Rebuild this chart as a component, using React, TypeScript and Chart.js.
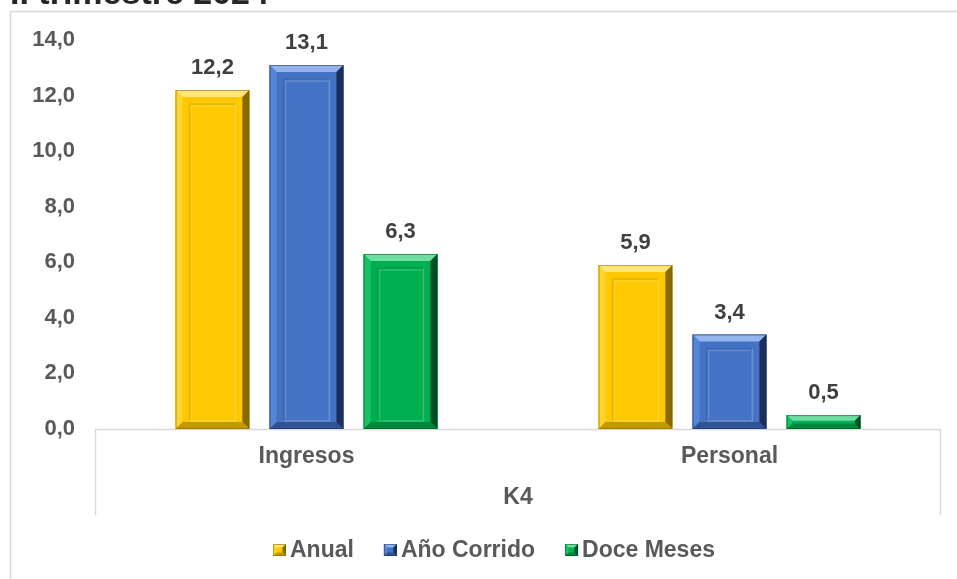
import React, { useEffect, useRef } from "react";
import { Chart, registerables } from "chart.js";

Chart.register(...registerables);

const titleText = "II trimestre 2024";
const categories = ["Ingresos", "Personal"];
const groupLabel = "K4";
const seriesNames = ["Anual", "Año Corrido", "Doce Meses"];
const anual = [12.2, 5.9];
const anoCorrido = [13.1, 3.4];
const doceMeses = [6.3, 0.5];
const yMin = 0;
const yMax = 14;
const yStep = 2;

const palettes = [
  { base: "#FFC800", light: "#FFE57A", left: "#FFD42E", dark: "#8A6A00", bottom: "#C29800", edge: "#7A5E00" },
  { base: "#4472C4", light: "#93B3EC", left: "#5785D6", dark: "#1B2F5A", bottom: "#2E5294", edge: "#1A2D55" },
  { base: "#00B050", light: "#6EDDA0", left: "#19C264", dark: "#004F26", bottom: "#00853C", edge: "#004A24" },
];

const FONT = "'Liberation Sans', Arial, sans-serif";
const fmt = (v: number) => v.toFixed(1).replace(".", ",");

function poly(ctx: CanvasRenderingContext2D, pts: number[][], color: string) {
  ctx.beginPath();
  ctx.moveTo(pts[0][0], pts[0][1]);
  for (let i = 1; i < pts.length; i++) ctx.lineTo(pts[i][0], pts[i][1]);
  ctx.closePath();
  ctx.fillStyle = color;
  ctx.fill();
}

function drawBevel(ctx: CanvasRenderingContext2D, l: number, t: number, w: number, h: number, pal: any, bev: number, frame: boolean) {
  const b = Math.max(1, Math.min(bev, h / 2.5, w / 2.5));
  const r = l + w;
  const btm = t + h;
  ctx.save();
  ctx.fillStyle = pal.base;
  ctx.fillRect(l, t, w, h);
  poly(ctx, [[l, t], [r, t], [r - b, t + b], [l + b, t + b]], pal.light);
  poly(ctx, [[l, t], [l + b, t + b], [l + b, btm - b], [l, btm]], pal.left);
  poly(ctx, [[r, t], [r, btm], [r - b, btm - b], [r - b, t + b]], pal.dark);
  poly(ctx, [[l, btm], [l + b, btm - b], [r - b, btm - b], [r, btm]], pal.bottom);
  ctx.lineWidth = 1;
  ctx.strokeStyle = pal.edge;
  ctx.globalAlpha = 0.5;
  ctx.strokeRect(l + 0.5, t + 0.5, w - 1, h - 1);
  ctx.globalAlpha = 1;
  if (frame && h > 40) {
    const ins = 14;
    const il = l + ins, it = t + ins, ir = r - ins, ib = btm - 8;
    ctx.lineWidth = 1.5;
    ctx.strokeStyle = "rgba(0,0,0,0.10)";
    ctx.beginPath();
    ctx.moveTo(il, ib);
    ctx.lineTo(il, it);
    ctx.lineTo(ir, it);
    ctx.stroke();
    ctx.strokeStyle = "rgba(255,255,255,0.22)";
    ctx.beginPath();
    ctx.moveTo(ir, it);
    ctx.lineTo(ir, ib);
    ctx.lineTo(il, ib);
    ctx.stroke();
    ctx.strokeStyle = "rgba(255,255,255,0.18)";
    ctx.beginPath();
    ctx.moveTo(il + 2, ib - 2);
    ctx.lineTo(il + 2, it + 2);
    ctx.lineTo(ir - 2, it + 2);
    ctx.stroke();
  }
  ctx.restore();
}

const decorPlugin = {
  id: "decor",
  beforeDraw(chart: any) {
    const { ctx, chartArea } = chart;
    ctx.save();
    ctx.strokeStyle = "#D9D9D9";
    ctx.lineWidth = 1.5;
    ctx.beginPath();
    ctx.moveTo(10.5, chart.height + 5);
    ctx.lineTo(10.5, 11.5);
    ctx.lineTo(chart.width + 5, 11.5);
    ctx.stroke();
    ctx.fillStyle = "#262626";
    ctx.font = `bold 34px ${FONT}`;
    ctx.textBaseline = "alphabetic";
    ctx.textAlign = "left";
    ctx.fillText(titleText, 10, 4);
    ctx.strokeStyle = "#D9D9D9";
    ctx.lineWidth = 1.5;
    ctx.beginPath();
    ctx.moveTo(chartArea.left, chartArea.bottom + 0.5);
    ctx.lineTo(chartArea.right, chartArea.bottom + 0.5);
    ctx.moveTo(chartArea.left + 0.5, chartArea.bottom);
    ctx.lineTo(chartArea.left + 0.5, chartArea.bottom + 86);
    ctx.moveTo(chartArea.right - 0.5, chartArea.bottom);
    ctx.lineTo(chartArea.right - 0.5, chartArea.bottom + 86);
    ctx.stroke();
    ctx.restore();
  },
  afterDatasetsDraw(chart: any) {
    const ctx = chart.ctx;
    ctx.save();
    chart.data.datasets.forEach((ds: any, i: number) => {
      const meta = chart.getDatasetMeta(i);
      const pal = palettes[i];
      meta.data.forEach((bar: any, j: number) => {
        const { x, y, base, width } = bar.getProps(["x", "y", "base", "width"], true);
        drawBevel(ctx, x - width / 2, y, width, base - y, pal, 7, true);
        ctx.fillStyle = "#404040";
        ctx.font = `bold 22px ${FONT}`;
        ctx.textAlign = "center";
        ctx.textBaseline = "middle";
        ctx.fillText(fmt(ds.data[j]), x, y - 22);
      });
    });
    ctx.restore();
  },
  afterDraw(chart: any) {
    const ctx = chart.ctx;
    ctx.save();
    ctx.font = `bold 23px ${FONT}`;
    const boxW = 13, boxH = 12, gap = 4, spacing = 30;
    const ds = chart.data.datasets;
    const widths = ds.map((d: any) => boxW + gap + ctx.measureText(d.label).width);
    const total = widths.reduce((a: number, b: number) => a + b, 0) + spacing * (ds.length - 1);
    let x = 494 - total / 2;
    const cy = 550;
    ds.forEach((d: any, i: number) => {
      drawBevel(ctx, x, cy - boxH / 2, boxW, boxH, palettes[i], 3.5, false);
      ctx.fillStyle = "#595959";
      ctx.textAlign = "left";
      ctx.textBaseline = "middle";
      ctx.fillText(d.label, x + boxW + gap, cy + 1);
      x += widths[i] + spacing;
    });
    ctx.restore();
  },
};

export default function App() {
  const ref = useRef<HTMLCanvasElement | null>(null);
  useEffect(() => {
    if (!ref.current) return;
    const seriesValues = [anual, anoCorrido, doceMeses];
    const chart = new Chart(ref.current, {
      type: "bar",
      data: {
        labels: categories,
        datasets: seriesNames.map((name, i) => ({
          label: name,
          data: seriesValues[i],
          backgroundColor: palettes[i].base,
          borderWidth: 0,
          categoryPercentage: 0.667,
          barPercentage: 0.785,
        })),
      },
      options: {
        responsive: false,
        devicePixelRatio: 1,
        animation: false,
        layout: { padding: { left: 10, top: 40, right: 16, bottom: 0 } },
        plugins: {
          legend: { display: false },
          tooltip: { enabled: false },
          title: { display: false },
        },
        scales: {
          x: {
            grid: { display: false, drawTicks: false },
            border: { display: false },
            ticks: {
              color: "#595959",
              font: { family: FONT, size: 23, weight: "bold" },
              padding: 14,
            },
            title: {
              display: true,
              text: groupLabel,
              color: "#595959",
              font: { family: FONT, size: 23, weight: "bold" },
              padding: { top: 0, bottom: 68 },
            },
            afterFit: (s: any) => {
              s.height = 150;
            },
          },
          y: {
            min: yMin,
            max: yMax,
            grid: { display: false, drawTicks: false },
            border: { display: false },
            ticks: {
              stepSize: yStep,
              color: "#595959",
              font: { family: FONT, size: 22, weight: "bold" },
              padding: 20,
              callback: (v: any) => fmt(Number(v)),
            },
            afterFit: (s: any) => {
              s.width = 85;
            },
          },
        },
      },
      plugins: [decorPlugin],
    });
    return () => chart.destroy();
  }, []);
  return (
    <div style={{ position: "fixed", left: 0, top: 0, width: 957, height: 579, background: "#fff", overflow: "hidden" }}>
      <canvas ref={ref} width={957} height={579} style={{ display: "block" }} />
    </div>
  );
}
